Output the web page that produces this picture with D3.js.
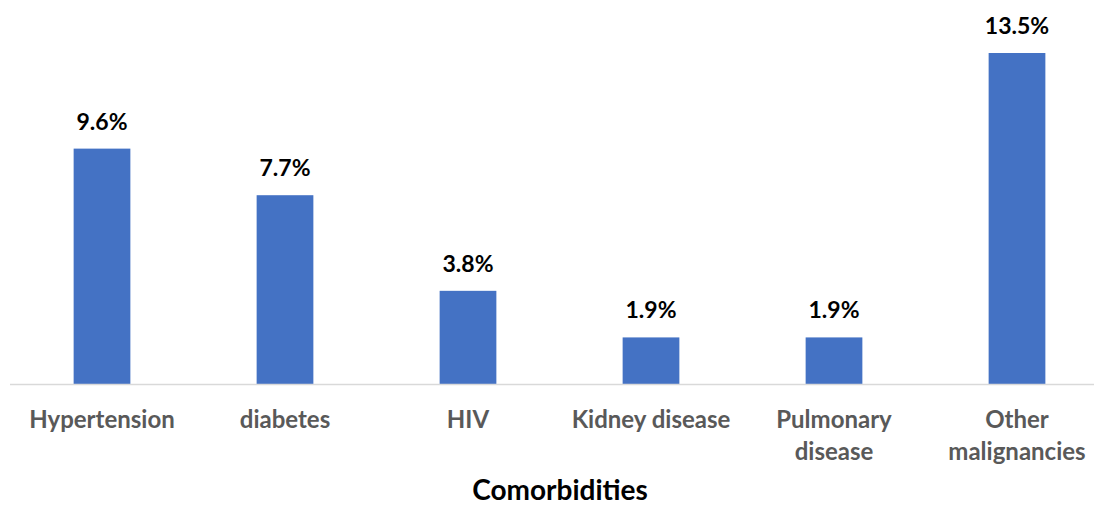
<!DOCTYPE html>
<html>
<head>
<meta charset="utf-8">
<script src="https://cdn.jsdelivr.net/npm/d3@7"></script>
<style>
  html, body { margin: 0; padding: 0; background: #fff; }
  svg { display: block; font-family: Lato, "Open Sans", sans-serif; }
</style>
</head>
<body>
<svg id="chart" width="1094" height="506"></svg>
<script>
// Comorbidity prevalence (%)
const categories = ["Hypertension", "diabetes", "HIV", "Kidney disease", "Pulmonary disease", "Other malignancies"];
const categoryLines = [["Hypertension"], ["diabetes"], ["HIV"], ["Kidney disease"], ["Pulmonary", "disease"], ["Other", "malignancies"]];
const values = [9.6, 7.7, 3.8, 1.9, 1.9, 13.5];
const valueLabels = ["9.6%", "7.7%", "3.8%", "1.9%", "1.9%", "13.5%"];
const axisTitle = "Comorbidities";

const svg = d3.select("#chart");
const baseY = 384;

const x = d3.scaleBand()
  .domain(categories)
  .range([10.5, 1108.5])
  .paddingInner(0.69)
  .paddingOuter(0.345);

const y = d3.scaleLinear()
  .domain([0, 13.5])
  .range([baseY, 53]);

// bars
svg.append("g")
  .selectAll("rect")
  .data(values)
  .join("rect")
  .attr("x", (d, i) => x(categories[i]))
  .attr("y", d => y(d))
  .attr("width", x.bandwidth())
  .attr("height", d => baseY - y(d))
  .attr("fill", "#4472c4");

// baseline
svg.append("line")
  .attr("x1", 10).attr("x2", 1094)
  .attr("y1", baseY + 0.5).attr("y2", baseY + 0.5)
  .attr("stroke", "#d9d9d9")
  .attr("stroke-width", 1.5);

// value labels
svg.append("g")
  .selectAll("text")
  .data(values)
  .join("text")
  .attr("x", (d, i) => x(categories[i]) + x.bandwidth() / 2)
  .attr("y", d => y(d) - 19)
  .attr("text-anchor", "middle")
  .attr("font-size", 23)
  .attr("font-weight", 700)
  .attr("fill", "#000")
  .text((d, i) => valueLabels[i]);

// category labels
const cat = svg.append("g")
  .selectAll("text")
  .data(categories)
  .join("text")
  .attr("x", d => x(d) + x.bandwidth() / 2)
  .attr("y", 428)
  .attr("text-anchor", "middle")
  .attr("font-size", 24)
  .attr("font-weight", 700)
  .attr("fill", "#595959");
cat.each(function(d, i) {
  const t = d3.select(this);
  categoryLines[i].forEach((line, j) => {
    t.append("tspan")
      .attr("x", x(d) + x.bandwidth() / 2)
      .attr("dy", j === 0 ? 0 : 32)
      .text(line);
  });
});

// axis title
svg.append("text")
  .attr("x", 560)
  .attr("y", 500)
  .attr("text-anchor", "middle")
  .attr("font-size", 28)
  .attr("font-weight", 700)
  .attr("fill", "#000")
  .text(axisTitle);
</script>
</body>
</html>
